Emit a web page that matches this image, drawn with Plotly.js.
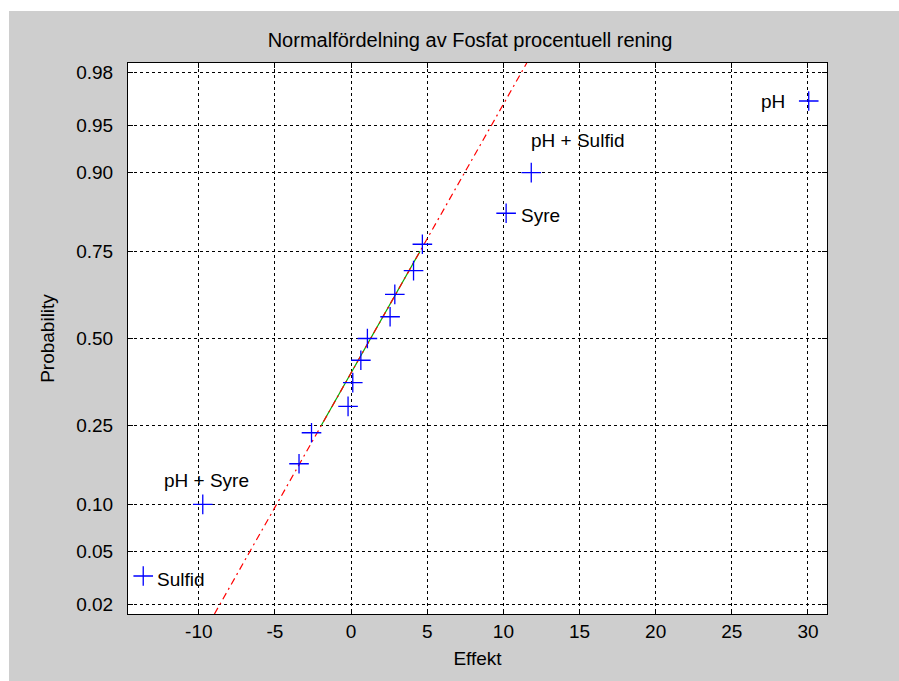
<!DOCTYPE html>
<html>
<head>
<meta charset="utf-8">
<script src="https://cdn.plot.ly/plotly-3.0.1.min.js"></script>
<style>
  html, body { margin: 0; padding: 0; background: #ffffff; width: 899px; height: 681px; overflow: hidden; }
  #chart { position: absolute; left: 9px; top: 11px; width: 890px; height: 670px; }
</style>
</head>
<body>
<div id="chart"></div>
<script>
// Effects (x) and their plotting probabilities (y)
const effects = [-13.65, -9.74, -3.42, -2.6, -0.2, 0.11, 0.64, 1.07, 2.56, 2.87, 4.1, 4.68, 10.18, 11.83, 30.05];
const probs = [0.0333, 0.1, 0.1667, 0.2333, 0.3, 0.3667, 0.4333, 0.5, 0.5667, 0.6333, 0.7, 0.7667, 0.8333, 0.9, 0.9667];
const labels = ["Sulfid", "pH + Syre", "", "", "", "", "", "", "", "", "", "", "Syre", "pH + Sulfid", "pH"];
// Reference line through quartile points
const quartileX = [-1.97, 4.53];
const quartileP = [0.25, 0.75];
// Probability tick labels
const probTicks = [0.02, 0.05, 0.10, 0.25, 0.50, 0.75, 0.90, 0.95, 0.98];
const probTickText = ["0.02", "0.05", "0.10", "0.25", "0.50", "0.75", "0.90", "0.95", "0.98"];
const xTicks = [-10, -5, 0, 5, 10, 15, 20, 25, 30];

// Inverse normal CDF (Acklam)
function norminv(p) {
  const a = [-3.969683028665376e+01, 2.209460984245205e+02, -2.759285104469687e+02, 1.383577518672690e+02, -3.066479806614716e+01, 2.506628277459239e+00];
  const b = [-5.447609879822406e+01, 1.615858368580409e+02, -1.556989798598866e+02, 6.680131188771972e+01, -1.328068155288572e+01];
  const c = [-7.784894002430293e-03, -3.223964580411365e-01, -2.400758277161838e+00, -2.549732539343734e+00, 4.374664141464968e+00, 2.938163982698783e+00];
  const d = [7.784695709041462e-03, 3.224671290700398e-01, 2.445134137142996e+00, 3.754408661907416e+00];
  const pl = 0.02425, ph = 1 - pl;
  let q, r;
  if (p < pl) {
    q = Math.sqrt(-2 * Math.log(p));
    return (((((c[0]*q+c[1])*q+c[2])*q+c[3])*q+c[4])*q+c[5]) / ((((d[0]*q+d[1])*q+d[2])*q+d[3])*q+1);
  } else if (p <= ph) {
    q = p - 0.5; r = q*q;
    return (((((a[0]*r+a[1])*r+a[2])*r+a[3])*r+a[4])*r+a[5])*q / (((((b[0]*r+b[1])*r+b[2])*r+b[3])*r+b[4])*r+1);
  } else {
    q = Math.sqrt(-2 * Math.log(1 - p));
    return -(((((c[0]*q+c[1])*q+c[2])*q+c[3])*q+c[4])*q+c[5]) / ((((d[0]*q+d[1])*q+d[2])*q+d[3])*q+1);
  }
}

const n = effects.length;
const zLim = -norminv(0.25 / n);
const zq = quartileP.map(norminv);
const slope = (zq[1] - zq[0]) / (quartileX[1] - quartileX[0]);
const xAtZ = z => quartileX[0] + (z - zq[0]) / slope;

const fontFam = "Liberation Sans, Arial, sans-serif";
const fs = 19;

const traces = [
  {
    x: quartileX, y: zq,
    mode: "lines", type: "scatter", hoverinfo: "skip",
    line: { color: "#00b000", width: 1.2 }
  },
  {
    x: [xAtZ(-zLim), xAtZ(zLim)], y: [-zLim, zLim],
    mode: "lines", type: "scatter", hoverinfo: "skip",
    line: { color: "#ff0000", width: 1.2, dash: "7px,4px,2px,4px" }
  },
  {
    x: effects, y: probs.map(norminv),
    mode: "markers", type: "scatter",
    marker: { symbol: "cross-thin", size: 14, line: { color: "#0000ff", width: 1.3 } }
  }
];

// text annotations placed relative to points
const annots = [];
const place = {
  "Sulfid":      { xanchor: "left",   yanchor: "middle", ax: 12, ay: 4 },
  "pH + Syre":   { xanchor: "center", yanchor: "bottom", ax: 4, ay: -11 },
  "Syre":        { xanchor: "left",   yanchor: "middle", ax: 13, ay: 2 },
  "pH + Sulfid": { xanchor: "center", yanchor: "bottom", ax: 46, ay: -20 },
  "pH":          { xanchor: "right",  yanchor: "middle", ax: -22, ay: 0 }
};
labels.forEach((lab, i) => {
  if (!lab) return;
  const pl = place[lab];
  annots.push({
    x: effects[i], y: norminv(probs[i]), xref: "x", yref: "y",
    text: lab, showarrow: false, xanchor: pl.xanchor, yanchor: pl.yanchor,
    xshift: pl.ax, yshift: -pl.ay,
    font: { family: fontFam, size: fs, color: "#000000" }
  });
});

const layout = {
  width: 890, height: 670,
  paper_bgcolor: "#cecece", plot_bgcolor: "#ffffff",
  margin: { l: 119, r: 72, t: 52, b: 67 },
  showlegend: false,
  title: { text: "Normalfördelning av Fosfat procentuell rening", x: 0.518, xanchor: "center", y: 0.957, yanchor: "middle",
           font: { family: fontFam, size: 20, color: "#000000" } },
  xaxis: {
    range: [-14.65, 31.25], tickvals: xTicks, ticktext: xTicks.map(String),
    showgrid: true, gridcolor: "#000000", gridwidth: 1, griddash: "3px,3px",
    zeroline: false, showline: true, linecolor: "#000000", linewidth: 1, mirror: "ticks",
    ticks: "inside", ticklen: 5, tickcolor: "#000000",
    tickfont: { family: fontFam, size: fs, color: "#000000" },
    title: { text: "Effekt", font: { family: fontFam, size: fs, color: "#000000" }, standoff: 10 }
  },
  yaxis: {
    range: [-zLim, zLim], tickvals: probTicks.map(norminv), ticktext: probTickText,
    showgrid: true, gridcolor: "#000000", gridwidth: 1, griddash: "3px,3px",
    zeroline: false, showline: true, linecolor: "#000000", linewidth: 1, mirror: "ticks",
    ticks: "inside", ticklen: 5, tickcolor: "#000000", ticklabelstandoff: 10,
    tickfont: { family: fontFam, size: fs, color: "#000000" },
    title: { text: "Probability", font: { family: fontFam, size: fs, color: "#000000" }, standoff: 16 }
  },
  annotations: annots
};

Plotly.newPlot("chart", traces, layout, { staticPlot: true, displayModeBar: false });
</script>
</body>
</html>
